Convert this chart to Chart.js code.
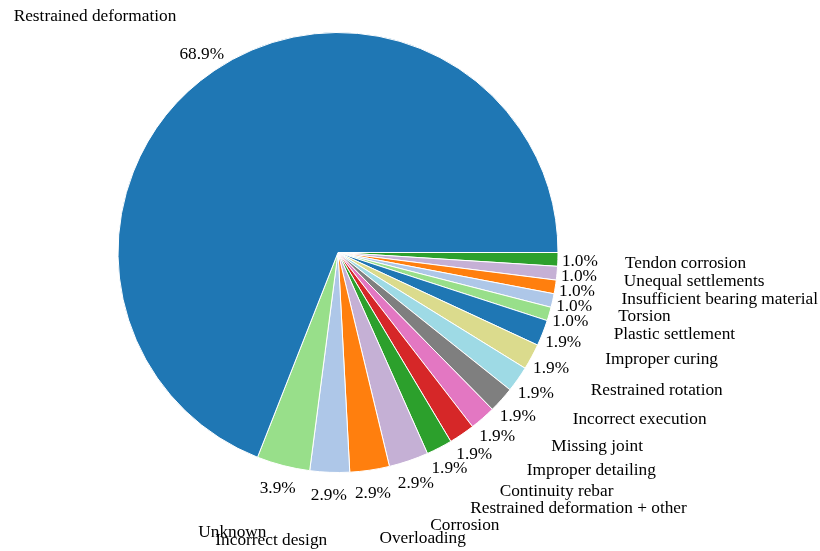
<!DOCTYPE html>
<html>
<head>
<meta charset="utf-8">
<script src="https://cdn.jsdelivr.net/npm/chart.js@4/dist/chart.umd.min.js"></script>
<style>
  html, body { margin: 0; padding: 0; background: #ffffff; }
  #wrap { width: 820px; height: 551px; }
</style>
</head>
<body>
<div id="wrap"><canvas id="c" width="820" height="551"></canvas></div>
<script>
// Categories in the order drawn (counter-clockwise from 3 o'clock)
const categories = [
  "Restrained deformation", "Unknown", "Incorrect design", "Overloading", "Corrosion",
  "Restrained deformation + other", "Continuity rebar", "Improper detailing", "Missing joint",
  "Incorrect execution", "Restrained rotation", "Improper curing", "Plastic settlement",
  "Torsion", "Insufficient bearing material", "Unequal settlements", "Tendon corrosion"
];
// Share of cases, percent
const shares = [68.9, 3.9, 2.9, 2.9, 2.9, 1.9, 1.9, 1.9, 1.9, 1.9, 1.9, 1.9, 1.0, 1.0, 1.0, 1.0, 1.0];
const sliceColors = [
  "#1f77b4", "#98df8a", "#aec7e8", "#ff7f0e", "#c5b0d5", "#2ca02c", "#d62728", "#e377c2",
  "#7f7f7f", "#9edae5", "#dbdb8d", "#1f77b4", "#98df8a", "#aec7e8", "#ff7f0e", "#c5b0d5", "#2ca02c"
];

// Chart.js draws clockwise, the reference goes counter-clockwise: reverse for the library
const libLabels = categories.slice().reverse();
const libData = shares.slice().reverse();
const libColors = sliceColors.slice().reverse();

const FONT = '17.3px "Liberation Serif", "Times New Roman", serif';
const TEXT_DY = 1.5;

const outsideLabels = {
  id: 'outsideLabels',
  afterDatasetsDraw(chart) {
    const ctx = chart.ctx;
    const meta = chart.getDatasetMeta(0);
    const ds = chart.data.datasets[0].data;
    ctx.save();
    ctx.font = FONT;
    ctx.fillStyle = '#000000';
    ctx.textBaseline = 'middle';
    meta.data.forEach((arc, i) => {
      const p = arc.getProps(['x', 'y', 'startAngle', 'endAngle', 'outerRadius'], true);
      const mid = (p.startAngle + p.endAngle) / 2;
      const c = Math.cos(mid), s = Math.sin(mid);
      // percentage
      ctx.textAlign = 'center';
      ctx.fillText(ds[i].toFixed(1) + '%', p.x + c * p.outerRadius * 1.1, p.y + s * p.outerRadius * 1.1 + TEXT_DY);
      // category label
      ctx.textAlign = c > 0 ? 'left' : 'right';
      ctx.fillText(chart.data.labels[i], p.x + c * p.outerRadius * 1.305, p.y + s * p.outerRadius * 1.305 + TEXT_DY);
    });
    ctx.restore();
  }
};

new Chart(document.getElementById('c'), {
  type: 'pie',
  data: {
    labels: libLabels,
    datasets: [{
      data: libData,
      backgroundColor: libColors,
      borderColor: '#ffffff',
      borderWidth: 1
    }]
  },
  options: {
    responsive: false,
    animation: false,
    rotation: 90,
    layout: { padding: { left: 117.5, top: 32, right: 261.5, bottom: 78 } },
    plugins: {
      legend: { display: false },
      tooltip: { enabled: false }
    }
  },
  plugins: [outsideLabels]
});
</script>
</body>
</html>
